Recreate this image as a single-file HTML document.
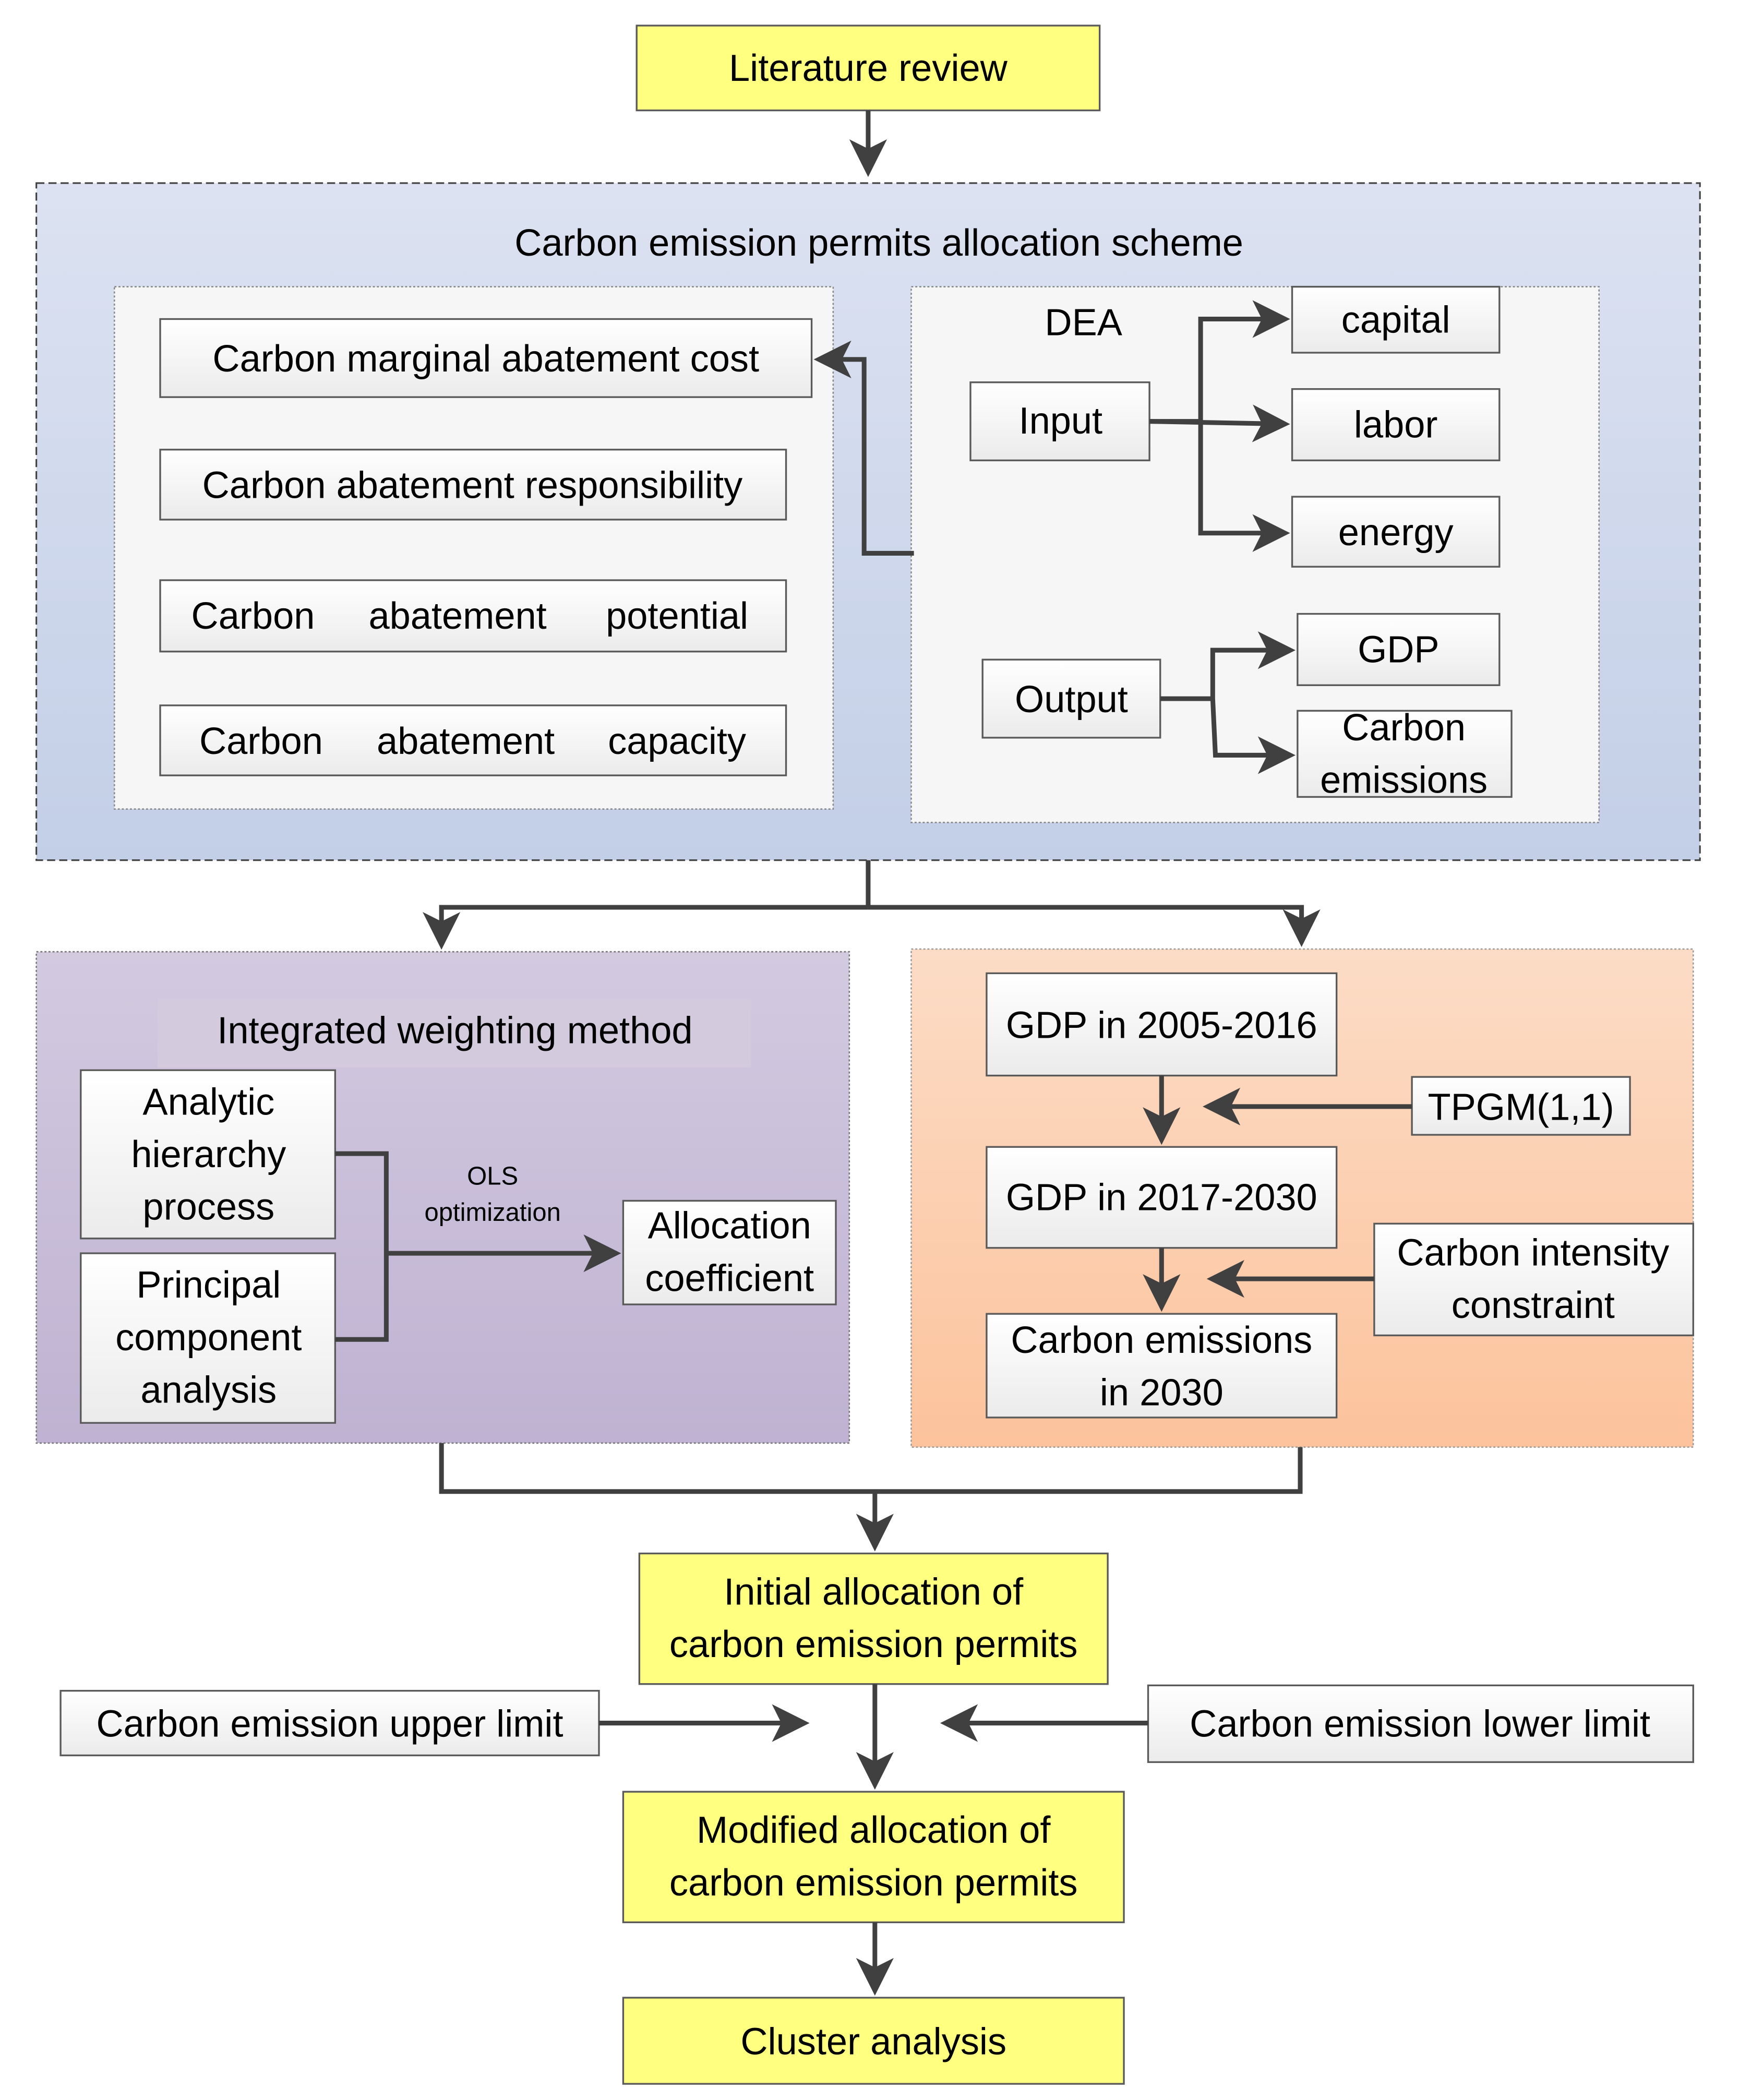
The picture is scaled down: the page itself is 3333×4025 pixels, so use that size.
<!DOCTYPE html>
<html><head><meta charset="utf-8"><style>
html,body{margin:0;padding:0;background:#fff}
svg{display:block}
text{font-family:"Liberation Sans Narrow","Liberation Sans",sans-serif;fill:#000;text-anchor:middle}
</style></head><body>
<svg width="3333" height="4025" viewBox="0 0 1292 1560" preserveAspectRatio="none" xmlns="http://www.w3.org/2000/svg">
<defs>
<linearGradient id="blue" x1="0" y1="0" x2="0" y2="1"><stop offset="0" stop-color="#dce2f1"/><stop offset="1" stop-color="#c3cfe7"/></linearGradient>
<linearGradient id="purp" x1="0" y1="0" x2="0" y2="1"><stop offset="0" stop-color="#d3cae0"/><stop offset="1" stop-color="#bfb2d2"/></linearGradient>
<linearGradient id="orng" x1="0" y1="0" x2="0" y2="1"><stop offset="0" stop-color="#fcdcc6"/><stop offset="1" stop-color="#fcc39c"/></linearGradient>
<linearGradient id="box" x1="0" y1="0" x2="0" y2="1"><stop offset="0" stop-color="#ffffff"/><stop offset="1" stop-color="#ebebeb"/></linearGradient>
<marker id="ah" markerWidth="8" markerHeight="8" refX="7" refY="4" orient="auto" markerUnits="strokeWidth"><path d="M0,0 L8,4 L0,8 L2,4 Z" fill="#404040"/></marker>
</defs>
<style>
.b{fill:url(#box);stroke:#5a5a5a;stroke-width:1.3}
.y{fill:#ffff80;stroke:#5a5a5a;stroke-width:1.3}
.l{fill:none;stroke:#404040;stroke-width:3.5}
.a{fill:none;stroke:#404040;stroke-width:3.5;marker-end:url(#ah)}
.t{font-size:28px}
</style>

<rect class="y" x="473" y="19" width="344" height="63"/>
<text class="t" x="645" y="60">Literature review</text>
<line class="a" x1="645" y1="82" x2="645" y2="128"/>

<rect x="27" y="136" width="1236" height="503" fill="url(#blue)" stroke="#404040" stroke-width="1.2" stroke-dasharray="6,3"/>
<text class="t" x="653" y="190">Carbon emission permits allocation scheme</text>

<rect x="85" y="213" width="534" height="388" fill="#f6f6f6" stroke="#888" stroke-width="1" stroke-dasharray="1.5,1.5"/>
<rect class="b" x="119" y="237" width="484" height="58"/><text class="t" x="361" y="276">Carbon marginal abatement cost</text>
<rect class="b" x="119" y="334" width="465" height="52"/><text class="t" x="351" y="370">Carbon abatement responsibility</text>
<rect class="b" x="119" y="431" width="465" height="53"/>
<text class="t" x="188" y="467">Carbon</text><text class="t" x="340" y="467">abatement</text><text class="t" x="503" y="467">potential</text>
<rect class="b" x="119" y="524" width="465" height="52"/>
<text class="t" x="194" y="560">Carbon</text><text class="t" x="346" y="560">abatement</text><text class="t" x="503" y="560">capacity</text>

<rect x="677" y="213" width="511" height="398" fill="#f6f6f6" stroke="#888" stroke-width="1" stroke-dasharray="1.5,1.5"/>
<text class="t" x="805" y="249">DEA</text>
<rect class="b" x="721" y="284" width="133" height="58"/><text class="t" x="788" y="322">Input</text>
<rect class="b" x="960" y="213" width="154" height="49"/><text class="t" x="1037" y="247">capital</text>
<rect class="b" x="960" y="289" width="154" height="53"/><text class="t" x="1037" y="325">labor</text>
<rect class="b" x="960" y="369" width="154" height="52"/><text class="t" x="1037" y="405">energy</text>
<rect class="b" x="730" y="490" width="132" height="58"/><text class="t" x="796" y="529">Output</text>
<rect class="b" x="964" y="456" width="150" height="53"/><text class="t" x="1039" y="492">GDP</text>
<rect class="b" x="964" y="528" width="159" height="64"/><text class="t" x="1043" y="550">Carbon</text><text class="t" x="1043" y="589">emissions</text>

<polyline class="l" points="854,313 892,313"/>
<polyline class="a" points="892,313 892,237 955,237"/>
<polyline class="a" points="854,313 955,315"/>
<polyline class="a" points="892,313 892,396 955,396"/>
<polyline class="l" points="862,519 901,519"/>
<polyline class="a" points="901,519 901,483 959,483"/>
<polyline class="a" points="901,519 903,561 959,561"/>

<polyline class="a" points="679,411 642,411 642,267 608,267"/>

<polyline class="l" points="645,639 645,674"/>
<polyline class="a" points="645,674 328,674 328,702"/>
<polyline class="a" points="645,674 967,674 967,700"/>

<rect x="27" y="707" width="604" height="365" fill="url(#purp)" stroke="#777" stroke-width="1" stroke-dasharray="1.5,1.5"/>
<rect x="117" y="742" width="441" height="51" fill="#d3cade"/>
<text class="t" x="338" y="775">Integrated weighting method</text>
<rect class="b" x="60" y="795" width="189" height="125"/>
<text class="t" x="155" y="828">Analytic</text><text class="t" x="155" y="867">hierarchy</text><text class="t" x="155" y="906">process</text>
<rect class="b" x="60" y="931" width="189" height="126"/>
<text class="t" x="155" y="964">Principal</text><text class="t" x="155" y="1003">component</text><text class="t" x="155" y="1042">analysis</text>
<rect class="b" x="463" y="892" width="158" height="77"/>
<text class="t" x="542" y="920">Allocation</text><text class="t" x="542" y="959">coefficient</text>
<polyline class="l" points="249,857 287,857 287,995 249,995"/>
<polyline class="a" points="287,931 458,931"/>
<text x="366" y="880" style="font-size:19px">OLS</text>
<text x="366" y="907" style="font-size:19px">optimization</text>

<rect x="677" y="705" width="581" height="370" fill="url(#orng)" stroke="#999" stroke-width="1" stroke-dasharray="1.5,1.5"/>
<rect class="b" x="733" y="723" width="260" height="76"/><text class="t" x="863" y="771">GDP in 2005-2016</text>
<rect class="b" x="733" y="852" width="260" height="75"/><text class="t" x="863" y="899">GDP in 2017-2030</text>
<rect class="b" x="733" y="976" width="260" height="77"/><text class="t" x="863" y="1005">Carbon emissions</text><text class="t" x="863" y="1044">in 2030</text>
<rect class="b" x="1049" y="800" width="162" height="43"/><text class="t" x="1130" y="832">TPGM(1,1)</text>
<rect class="b" x="1021" y="909" width="237" height="83"/><text class="t" x="1139" y="940">Carbon intensity</text><text class="t" x="1139" y="979">constraint</text>
<line class="a" x1="863" y1="799" x2="863" y2="847"/>
<line class="a" x1="863" y1="927" x2="863" y2="971"/>
<line class="a" x1="1049" y1="822" x2="897" y2="822"/>
<line class="a" x1="1021" y1="950" x2="900" y2="950"/>

<polyline class="l" points="328,1072 328,1108 966,1108 966,1075"/>
<line class="a" x1="650" y1="1108" x2="650" y2="1149"/>

<rect class="y" x="475" y="1154" width="348" height="97"/>
<text class="t" x="649" y="1192">Initial allocation of</text><text class="t" x="649" y="1231">carbon emission permits</text>

<rect class="b" x="45" y="1256" width="400" height="48"/><text class="t" x="245" y="1290">Carbon emission upper limit</text>
<rect class="b" x="853" y="1252" width="405" height="57"/><text class="t" x="1055" y="1290">Carbon emission lower limit</text>
<line class="a" x1="445" y1="1280" x2="598" y2="1280"/>
<line class="a" x1="853" y1="1280" x2="702" y2="1280"/>
<line class="a" x1="650" y1="1251" x2="650" y2="1326"/>

<rect class="y" x="463" y="1331" width="372" height="97"/>
<text class="t" x="649" y="1369">Modified allocation of</text><text class="t" x="649" y="1408">carbon emission permits</text>
<line class="a" x1="650" y1="1428" x2="650" y2="1479"/>

<rect class="y" x="463" y="1484" width="372" height="64"/>
<text class="t" x="649" y="1526">Cluster analysis</text>
</svg>
</body></html>
